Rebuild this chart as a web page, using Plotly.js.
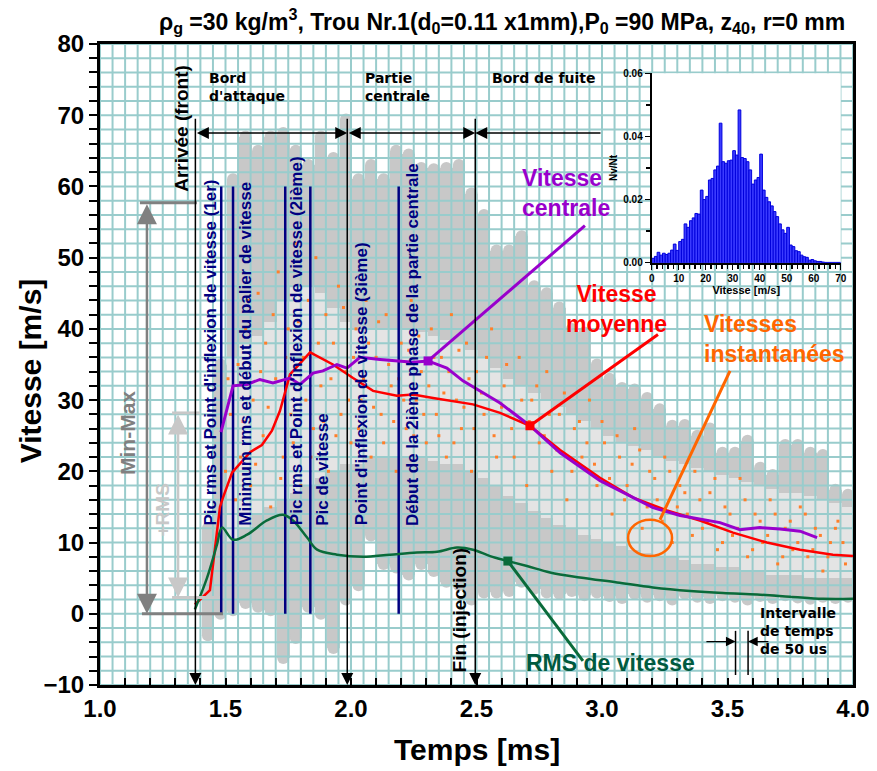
<!DOCTYPE html>
<html><head><meta charset="utf-8">
<script src="https://cdn.plot.ly/plotly-3.0.1.min.js"></script>
<style>body{margin:0;background:#fff}#chart{width:877px;height:771px}</style>
</head><body><div id="chart"></div>
<script>
// ---- gray min/max bars (every ~50 us) ----
const barT = [1.43,1.48,1.53,1.58,1.63,1.68,1.73,1.78,1.83,1.88,1.93,1.98,2.03,2.08,2.13,2.18,2.23,2.28,2.33,2.38,2.43,2.48,2.53,2.58,2.63,2.68,2.73,2.78,2.83,2.88,2.93,2.98,3.03,3.08,3.13,3.18,3.23,3.28,3.33,3.38,3.43,3.48,3.53,3.58,3.63,3.68,3.73,3.78,3.83,3.88,3.93,3.98];
const barMax = [12,35,61,67,65,67,67.5,65,63,67,64,69.4,61,63,61,65,64.5,62.6,62.4,62.6,63,59,56,51,51,53,46,45,43,40,39.5,35,33,31.7,31.5,30.3,28.7,26.4,26.5,25,26,22.6,22.6,24.3,20.5,19.5,23.7,23.7,22.6,22.3,17.4,16.7];
const barMin = [-3,0,0.5,1.5,1,0.5,-6.2,-3.4,1,0,-4.8,2,4,11,7,6.5,5.5,7,6,4.5,4,2,3,3,3.2,4.5,3.5,3,2.8,3.2,2.6,3,2.5,2.2,2.8,2.4,2.6,2,2.8,2.4,2.2,2.6,2.4,2,2.5,2.2,2.6,2.3,2.1,2.4,2.2,2.4];
const bandHigh = [null,null,36,38,39,41,44,46,46,45,43,41,40,40,40,40,40,39.5,39,38.5,38,37,36,34.5,33,32,31,30,29,28,27,26,25,24,23.5,23,22,21.5,21,20.5,20,19.5,19,18.5,18,17.5,17,17,16.5,16,15.5,15];
const bandLow = [null,null,10,12,14,15,16,17,18,19,20,21,21,22,22,22,22,22,21.5,21,21,20,19,18,16.5,15.5,14.5,13.5,12.5,12,11,10.5,10,9.5,9,8.5,8,8,7.5,7,7,6.5,6.5,6,6,5.5,5.5,5.5,5,5,5,5];

// ---- instantaneous velocities (sample) ----
const orangeT = [1.50,1.52,1.55,1.56,1.58,1.60,1.61,1.63,1.65,1.66,1.68,1.70,1.71,1.73,1.75,1.76,1.78,1.80,1.81,1.83,1.85,1.86,1.88,1.90,1.91,1.93,1.95,1.96,1.98,2.00,2.02,2.04,2.06,2.08,2.10,2.12,2.14,2.16,2.18,2.20,2.22,2.24,2.26,2.28,2.30,2.32,2.34,2.36,2.38,2.40,2.42,2.44,2.46,2.48,2.50,2.53,2.56,2.58,2.61,2.64,2.67,2.70,2.72,2.75,2.78,2.80,2.83,2.86,2.89,2.92,2.95,2.98,3.01,3.04,3.07,3.10,3.13,3.16,3.19,3.22,3.25,3.28,3.31,3.34,3.37,3.40,3.43,3.46,3.49,3.52,3.55,3.58,3.61,3.64,3.67,3.70,3.73,3.76,3.79,3.82,3.85,3.88,3.91,3.94,3.97,
  1.51,1.54,1.57,1.59,1.62,1.64,1.67,1.69,1.72,1.74,1.77,1.79,1.82,1.84,1.87,1.89,1.92,1.94,1.97,1.99,2.01,2.03,2.05,2.07,2.09,2.11,2.13,2.15,2.17,2.19,2.21,2.23,2.25,2.27,2.29,2.31,2.33,2.35,2.37,2.39,2.41,2.43,2.45,2.47,2.49,2.52,2.54,2.57,2.60,2.62,2.65,2.68,2.71,2.74,2.77,2.79,2.82,2.85,2.88,2.91,2.94,2.97,3.00,3.03,3.06,3.09,3.12,3.15,3.18,3.21,3.24,3.27,3.30,3.33,3.36,3.39,3.42,3.45,3.48,3.51,3.54,3.57,3.60,3.63,3.66,3.69,3.72,3.75,3.78,3.81,3.84,3.87,3.90,3.93,3.96];
const orangeV = [20,28,35,22,40,18,30,45,25,38,15,33,48,22,40,28,52,18,36,44,26,50,32,42,20,38,46,28,34,24,40,30,44,22,36,28,42,32,20,38,26,44,30,34,24,40,28,36,22,42,30,26,38,20,34,28,40,22,32,26,36,18,30,24,34,20,28,16,26,22,30,18,24,14,22,18,26,12,20,16,22,10,18,14,20,12,17,9,15,11,19,8,14,10,16,7,12,9,15,8,12,6,10,13,7,
  33,16,27,44,21,34,29,42,19,36,24,41,30,22,38,27,33,25,43,30,36,26,33,38,29,41,24,35,27,33,30,37,25,39,28,32,36,25,31,34,24,37,29,33,26,31,36,25,29,35,22,30,27,32,25,28,23,31,20,27,24,21,27,19,25,16,21,23,15,19,13,20,15,17,11,16,13,19,10,14,12,16,9,13,11,14,8,13,10,14,9,11,8,12,10];

// ---- mean / central / rms velocity curves ----
const meanT = [1.378,1.438,1.478,1.490,1.526,1.598,1.645,1.685,1.717,1.757,1.837,1.928,2.008,2.088,2.183,2.247,2.327,2.406,2.486,2.594,2.713,2.833,2.992,3.124,3.259,3.390,3.522,3.657,3.789,3.920,4.0];
const meanV = [1.3,3.3,15.0,16.3,19.8,22.7,23.7,25.7,28.5,33.6,36.7,35.0,33.1,31.3,30.6,30.8,30.3,29.9,29.4,28.2,26.4,23.0,19.1,16.3,14.5,13.1,11.4,10.0,9.0,8.3,8.1];
const centralT = [1.482,1.530,1.586,1.637,1.689,1.757,1.797,1.849,1.888,1.944,1.984,2.036,2.116,2.183,2.247,2.307,2.382,2.446,2.514,2.594,2.713,2.833,2.992,3.100,3.203,3.311,3.418,3.470,3.550,3.629,3.709,3.789,3.857];
const centralV = [25.5,32.0,32.2,32.9,32.4,33.1,32.2,33.8,34.1,35.0,34.5,36.0,35.7,35.5,35.3,35.5,34.5,32.7,31.3,29.6,26.4,22.6,18.7,16.7,14.9,13.8,13.1,12.8,11.8,12.1,11.9,11.6,10.7];
const rmsT = [1.378,1.426,1.466,1.486,1.530,1.586,1.665,1.729,1.769,1.825,1.865,1.944,2.048,2.155,2.263,2.343,2.422,2.486,2.554,2.625,2.701,2.793,2.912,3.060,3.203,3.351,3.482,3.618,3.749,3.880,4.0];
const rmsV = [0.6,5.0,9.7,12.1,10.4,11.1,13.1,13.9,13.1,10.7,9.0,8.3,8.0,8.3,8.6,8.7,9.3,9.0,8.1,7.4,6.7,5.8,5.1,4.4,3.7,3.2,2.9,2.7,2.4,2.1,2.1];

// ---- event times (navy lines) and phase boundaries ----
const eventTimes = [1.483,1.530,1.738,1.838,2.190];
const eventLabels = ["Pic rms et Point d'inflexion de vitesse (1er)","Minimum rms et début du palier de vitesse","Pic rms et Point d'inflexion de vitesse (2ième)","Pic de vitesse","Point d'inflexion de vitesse (3ième)","Début de la 2ième phase de la partie centrale"];
const eventLabelT = [1.442,1.582,1.781,1.885,2.040,2.243];
const phaseT = [1.38,1.985,2.495];

// ---- inset histogram ----
const histVal = [0.0014,0.002,0.0033,0.0024,0.003,0.0026,0.003,0.004,0.0059,0.0039,
0.0067,0.0074,0.0123,0.0112,0.0133,0.0142,0.0156,0.0154,0.023,0.020,
0.021,0.0262,0.0267,0.0294,0.0306,0.0442,0.032,0.0315,0.0323,0.0325,
0.0355,0.0341,0.0484,0.0333,0.033,0.032,0.0294,0.0249,0.0262,0.027,
0.0344,0.023,0.0207,0.0193,0.018,0.0162,0.0146,0.0123,0.0104,0.0093,
0.0112,0.0056,0.0051,0.0038,0.0035,0.0024,0.0019,0.0017,0.0008,0.001,
0.0006,0.0004,0.0004,0.0002,0.0001,0.0001,0.0001,0.0001,0.0001,0.0001];
const histX = histVal.map((_, i) => i + 0.5);

const FONT = 'Liberation Sans, Arial, sans-serif';
const DARKGRAY = '#c8c8c8', LIGHTGRAY = '#e4e4e4', GRID = '#99cccc';
const RED = '#ff0000', PURPLE = '#9900cc', GREEN = '#0a6b3a', ORANGE = '#ff6600', NAVY = '#000080';

// grid built from axis spacing
const gx = [], gy = [];
for (let i = 0; i <= 60; i++) { const t = 1 + i * 0.05; gx.push(t, t, null); gy.push(-10, 80, null); }
for (let i = 0; i <= 45; i++) { const v = -10 + i * 2; gx.push(1, 4, null); gy.push(v, v, null); }

const ex = [], ey = [];
eventTimes.forEach(t => { ex.push(t, t, null); ey.push(0, 60, null); });

const traces = [
  {type:'bar', x:barT, base:barMin, y:barMax.map((m,i)=>m-barMin[i]), width:0.05,
   marker:{color:DARKGRAY, line:{width:0}}, hoverinfo:'skip', showlegend:false},
  {type:'bar', x:barT, base:bandLow, y:bandHigh.map((h,i)=>h===null?null:h-bandLow[i]), width:0.05,
   marker:{color:LIGHTGRAY, line:{width:0}}, hoverinfo:'skip', showlegend:false},
  {type:'scatter', mode:'markers', x:barT.concat(barT), y:barMax.concat(barMin),
   marker:{symbol:'circle', size:12, color:DARKGRAY, line:{width:0}}, hoverinfo:'skip', showlegend:false},
  {type:'scatter', mode:'lines', x:gx, y:gy, line:{color:GRID, width:2}, hoverinfo:'skip', showlegend:false, connectgaps:false},
  {type:'scatter', mode:'markers', x:orangeT, y:orangeV,
   marker:{symbol:'square', size:3, color:'#ff7f2a', line:{width:0}}, showlegend:false},
  {type:'scatter', mode:'lines', x:ex, y:ey, line:{color:NAVY, width:2.5}, showlegend:false, connectgaps:false},
  {type:'scatter', mode:'lines', x:meanT, y:meanV, line:{color:RED, width:2.5}, showlegend:false},
  {type:'scatter', mode:'lines', x:centralT, y:centralV, line:{color:PURPLE, width:3}, showlegend:false},
  {type:'scatter', mode:'lines', x:rmsT, y:rmsV, line:{color:GREEN, width:2.5, shape:'spline'}, showlegend:false},
  {type:'scatter', mode:'markers', x:[centralT[15], meanT[20], rmsT[19]], y:[centralV[15], meanV[20], rmsV[19]],
   marker:{symbol:'square', size:9, color:[PURPLE, RED, GREEN]}, showlegend:false},
  {type:'bar', x:histX, y:histVal, width:1, xaxis:'x3', yaxis:'y3',
   marker:{color:'#3b3bff', line:{color:'#0000dd', width:1}}, showlegend:false}
];

function txt(text, x, y, o) {
  return Object.assign({text, x, y, xref:'x', yref:'y', showarrow:false,
    font:{family:FONT, size:16, color:'#000', weight:'bold'}}, o || {});
}
function arr(x, y, ax, ay, color, width, side) {
  return {x, y, ax, ay, xref:'x', yref:'y', axref:'x', ayref:'y', text:'', showarrow:true,
    arrowhead:2, arrowsize:1.6, arrowwidth:width, arrowcolor:color, arrowside:side||'end', standoff:0, startstandoff:0};
}
const DJ = 'DejaVu Sans, Verdana, sans-serif';
const annotations = [
  txt("Bord<br>d'attaque", 1.426, 76.6, {xanchor:'left', yanchor:'top', align:'left', font:{family:DJ, size:14, weight:'bold', color:'#000'}}),
  txt("Partie<br>centrale", 2.048, 76.6, {xanchor:'left', yanchor:'top', align:'left', font:{family:DJ, size:14, weight:'bold', color:'#000'}}),
  txt("Bord de fuite", 2.554, 76.6, {xanchor:'left', yanchor:'top', align:'left', font:{family:DJ, size:14, weight:'bold', color:'#000'}}),
  txt("Arrivée (front)", 1.327, 68.1, {textangle:-90, font:{family:FONT, size:19, weight:'bold', color:'#000'}}),
  txt("Fin (injection)", 2.434, 0.6, {textangle:-90, font:{family:FONT, size:19, weight:'bold', color:'#000'}}),
  txt("Min-Max", 1.112, 25.4, {textangle:-90, font:{family:FONT, size:21, weight:'bold', color:'#808080'}}),
  txt("+RMS", 1.251, 14.5, {textangle:-90, font:{family:FONT, size:19, weight:'bold', color:'#c8c8c8'}}),
  txt("Vitesse<br>centrale", 2.673, 59.1, {xanchor:'left', align:'left', font:{family:FONT, size:23, weight:'bold', color:PURPLE}}),
  txt("Vitesse<br>moyenne", 3.056, 42.8, {align:'center', font:{family:FONT, size:23, weight:'bold', color:RED}}),
  txt("Vitesses<br>instantanées", 3.398, 38.6, {xanchor:'left', align:'left', font:{family:FONT, size:23, weight:'bold', color:ORANGE}}),
  txt("RMS de vitesse", 3.032, -6.9, {font:{family:FONT, size:23, weight:'bold', color:'#005a40'}}),
  txt("Intervalle<br>de temps<br>de 50 us", 3.622, -2.4, {xanchor:'left', align:'left', font:{family:DJ, size:14, weight:'bold', color:'#000'}}),
  {text:'Vitesse [m/s]', xref:'paper', yref:'paper', x:-0.093, y:0.491, xanchor:'center', yanchor:'middle', textangle:-90, showarrow:false,
   font:{family:FONT, size:30, weight:'bold', color:'#000'}},
  {text:'Temps [ms]', xref:'paper', yref:'paper', x:0.5, y:-0.1014, xanchor:'center', yanchor:'middle', showarrow:false,
   font:{family:FONT, size:30, weight:'bold', color:'#000'}}
];
eventLabels.forEach((s, i) => annotations.push(
  txt(s, eventLabelT[i], 12.1, {textangle:-90, yanchor:'bottom', font:{family:FONT, size:17, weight:'bold', color:NAVY}})));
// phase boundary arrows
phaseT.forEach(t => annotations.push(arr(t, -10, t, 69.7, '#000', 1.5, 'end')));
annotations.push(arr(phaseT[1], 67.5, phaseT[0], 67.5, '#000', 1.5, 'end+start'));
annotations.push(arr(phaseT[2], 67.5, phaseT[1], 67.5, '#000', 1.5, 'end+start'));
annotations.push(arr(phaseT[2], 67.5, 3.0, 67.5, '#000', 1.5, 'end'));
// Min-Max and RMS arrows
annotations.push(arr(1.187, 0, 1.187, 57.7, '#808080', 2.5, 'end+start'));
annotations.push(arr(1.311, 2.3, 1.311, 28.2, '#c8c8c8', 2.5, 'end+start'));
// 50 us interval arrows
annotations.push(arr(3.532, -3.9, 3.41, -3.9, '#000', 1.2, 'end'));
annotations.push(arr(3.582, -3.9, 3.669, -3.9, '#000', 1.2, 'end'));

function ln(x0, y0, x1, y1, color, width) {
  return {type:'line', xref:'x', yref:'y', x0, y0, x1, y1, line:{color, width}};
}
const shapes = [
  ln(1.159, 57.7, 1.386, 57.7, '#808080', 3),
  ln(1.167, 0, 1.49, 0, '#808080', 3),
  ln(1.287, 28.2, 1.398, 28.2, '#c8c8c8', 3),
  ln(1.287, 2.3, 1.478, 2.3, '#c8c8c8', 3),
  ln(2.932, 54.5, centralT[15], centralV[15], PURPLE, 3),
  ln(3.223, 39.2, meanT[20], meanV[20], RED, 3),
  ln(3.51, 34.1, 3.231, 13.2, ORANGE, 3),
  {type:'circle', xref:'x', yref:'y', x0:3.104, x1:3.279, y0:8.1, y1:13.2, line:{color:ORANGE, width:2.5}},
  ln(2.924, -6.6, rmsT[19], rmsV[19], GREEN, 3),
  ln(3.532, -2.4, 3.532, -8.6, '#000', 1.5),
  ln(3.582, -2.4, 3.582, -8.6, '#000', 1.5)
];

const layout = {
  width:877, height:771,
  margin:{l:100, r:24, t:44, b:86},
  paper_bgcolor:'#fff', plot_bgcolor:'#fff',
  barmode:'overlay', bargap:0,
  showlegend:false,
  title:{text:'ρ<sub>g</sub> =30 kg/m<sup>3</sup>, Trou Nr.1(d<sub>0</sub>=0.11 x1mm),P<sub>0</sub> =90 MPa, z<sub>40</sub>, r=0 mm',
    x:0.5725, xanchor:'center', y:0.972, yanchor:'middle',
    font:{family:'Liberation Sans Narrow, Arial Narrow, Liberation Sans, sans-serif', size:23, weight:'bold', color:'#000'}},
  xaxis:{range:[1,4], tick0:1, dtick:0.5, tickformat:'.1f', ticks:'inside', ticklen:7, tickwidth:2, tickcolor:'#000',
    minor:{dtick:0.1, tick0:1, ticks:'inside', ticklen:7, tickwidth:2, tickcolor:'#000', showgrid:false},
    showgrid:false, zeroline:false, showline:true, linewidth:3, linecolor:'#000', mirror:true, layer:'above traces',
    tickfont:{family:FONT, size:24, weight:'bold', color:'#000'}, fixedrange:true},
  yaxis:{range:[-10,80], tick0:0, dtick:10, ticks:'outside', ticklen:8, tickwidth:2, tickcolor:'#000',
    minor:{dtick:2, tick0:0, ticks:'outside', ticklen:8, tickwidth:2, tickcolor:'#000', showgrid:false},
    showgrid:false, zeroline:false, showline:true, linewidth:3, linecolor:'#000', mirror:true, layer:'above traces',
    tickfont:{family:FONT, size:24, weight:'bold', color:'#000'}, fixedrange:true},
  xaxis3:{domain:[0.7327,0.9837], anchor:'y3', range:[0,70], dtick:10, ticks:'outside', ticklen:5, tickwidth:1.5, tickcolor:'#000',
    minor:{dtick:2, ticks:'outside', ticklen:4, tickwidth:1.5, tickcolor:'#000'},
    showgrid:false, zeroline:false, showline:true, linewidth:2, linecolor:'#000',
    tickfont:{family:FONT, size:10, weight:'bold', color:'#000'},
    title:{text:'Vitesse [m/s]', standoff:2, font:{family:FONT, size:11, weight:'bold', color:'#000'}}},
  yaxis3:{domain:[0.6588,0.9543], anchor:'x3', range:[0,0.06], dtick:0.02, tickformat:'.2f', ticks:'outside', ticklen:5, tickwidth:1.5, tickcolor:'#000',
    minor:{dtick:0.01, ticks:'outside', ticklen:4, tickwidth:1.5, tickcolor:'#000'},
    showgrid:false, zeroline:false, showline:true, linewidth:2, linecolor:'#000',
    tickfont:{family:FONT, size:10, weight:'bold', color:'#000'},
    title:{text:'Nv/Nt', standoff:4, font:{family:FONT, size:10, weight:'bold', color:'#000'}}},
  annotations, shapes
};
Plotly.newPlot('chart', traces, layout, {staticPlot:true, displayModeBar:false});
</script></body></html>
